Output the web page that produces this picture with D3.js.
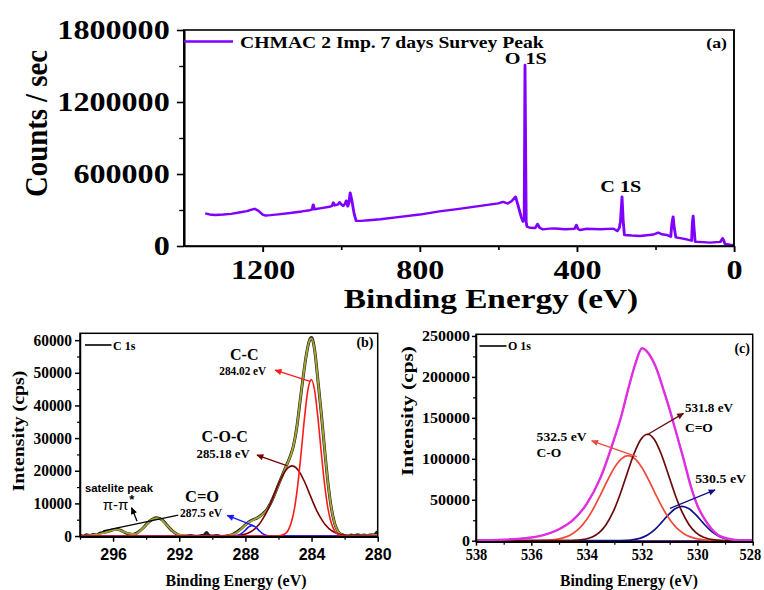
<!DOCTYPE html>
<html>
<head>
<meta charset="utf-8">
<script src="https://cdn.jsdelivr.net/npm/d3@7"></script>
<style>
  body { margin: 0; background: #fff; }
  svg { display: block; }
</style>
</head>
<body>
<svg id="fig" width="764" height="590"></svg>
<script>
// ---------------- data ----------------
// (a) survey spectrum: [binding energy eV, counts/sec]
const surveyTicksX = [1200, 800, 400, 0];
const surveyMinorX = [1000, 600, 200];
const surveyTicksY = [0, 600000, 1200000, 1800000];
const surveyMinorY = [300000, 900000, 1500000];
const survey = [
  [1346,272000],[1335,263000],[1320,258000],[1300,262000],[1280,268000],[1260,279000],
  [1240,291000],[1228,303000],[1220,310000],[1210,292000],[1200,262000],[1192,254000],
  [1180,257000],[1160,264000],[1130,275000],[1100,288000],[1080,298000],[1074,304000],
  [1071,345000],[1068,306000],[1050,316000],[1030,327000],[1023,334000],[1020,362000],
  [1016,338000],[1008,346000],[1004,365000],[999,345000],[995,334000],[990,352000],
  [987,378000],[983,330000],[980,362000],[977,444000],[973,385000],[967,270000],
  [962,211000],[950,209000],[930,214000],[900,223000],[850,243000],[800,262000],
  [750,289000],[700,309000],[650,332000],[600,355000],[588,368000],[576,354000],
  [566,374000],[556,411000],[549,330000],[542,245000],[537,203000],[534,232000],
  [532,1508000],[529,200000],[527,161000],[520,152000],[506,150000],[500,183000],
  [495,152000],[486,139000],[470,145000],[455,146000],[430,140000],[406,144000],
  [401,175000],[397,141000],[392,133000],[375,144000],[340,140000],[307,145000],
  [297,125000],[292,150000],[289,205000],[285,411000],[282,205000],[279,92000],
  [260,87000],[239,83000],[205,96000],[193,111000],[184,98000],[171,92000],
  [161,78000],[158,190000],[155,244000],[152,150000],[148,72000],[130,62000],
  [121,55000],[108,44000],[106,190000],[104,250000],[101,120000],[99,36000],
  [80,32000],[61,28000],[35,34000],[29,64000],[26,45000],[23,17000],[10,10000],[0,8000]
];
const surveyPeaks = [
  { text: "O 1S", ev: 530, v: 1516000 },
  { text: "C 1S", ev: 288, v: 452000 }
];

// (b) C 1s high resolution: [binding energy eV, intensity cps]
const c1sTicksX = [296, 292, 288, 284, 280];
const c1sMinorX = [298, 294, 290, 286, 282];
const c1sTicksY = [0, 10000, 20000, 30000, 40000, 50000, 60000];
const c1sMinorY = [5000, 15000, 25000, 35000, 45000, 55000];
const c1sData = [
  [298,300],[297.8,-100],[297.6,400],[297.4,100],[297.2,500],[297,300],[296.8,900],
  [296.6,1100],[296.4,1300],[296.2,1600],[296,1900],[295.8,2100],[295.6,1900],[295.4,1400],
  [295.2,900],[295,600],[294.8,500],[294.6,800],[294.4,1500],[294.2,2400],[294,3500],
  [293.8,4500],[293.6,5200],[293.4,5600],[293.2,5400],[293,4800],[292.8,3700],[292.6,2500],
  [292.4,1500],[292.2,800],[292,300],[291.8,100],[291.6,0],[291.3,200],[291,-100],
  [290.7,100],[290.5,300],[290.35,1100],[290.2,200],[290,0],[289.7,200],[289.4,-200],
  [289.1,100],[288.9,300],[288.7,700],[288.5,1300],[288.3,2100],[288.1,3000],[287.9,3900],
  [287.7,4600],[287.5,5100],[287.3,5500],[287.1,6200],[286.9,7000],[286.7,8100],[286.5,9800],
  [286.3,12000],[286.1,14500],[285.9,17000],[285.7,19400],[285.5,21800],[285.3,24300],
  [285.1,27500],[284.9,33000],[284.7,41000],[284.5,49000],[284.3,56000],[284.1,60300],
  [284,60800],[283.9,59500],[283.8,56500],[283.6,47000],[283.4,37000],[283.2,26000],
  [283,16000],[282.8,8500],[282.6,3800],[282.4,1400],[282.2,500],[282,200],[281.8,0],
  [281.6,300],[281.4,100],[281.2,400],[281,200],[280.8,300],[280.6,100],[280.4,400],
  [280.2,300],[280.1,900],[280,1300]
];
const c1sEnvelope = [
  [298,100],[297.5,200],[297,400],[296.6,900],[296.2,1600],[295.8,2000],[295.4,1400],
  [295,700],[294.7,600],[294.4,1400],[294,3400],[293.7,4900],[293.4,5500],[293.1,5100],
  [292.8,3600],[292.4,1500],[292,400],[291.5,100],[291,50],[290,50],[289.2,100],
  [288.8,400],[288.4,1500],[288.1,2900],[287.8,4200],[287.5,5000],[287.1,6100],[286.7,8000],
  [286.3,12000],[285.9,17000],[285.5,21700],[285.1,27500],[284.9,33000],[284.7,41000],
  [284.5,49000],[284.3,56000],[284.1,60200],[284,60500],[283.8,56500],[283.6,47000],
  [283.4,37000],[283.2,26000],[283,16000],[282.8,8500],[282.6,3800],[282.4,1400],
  [282.2,500],[282,200],[281.5,100],[281,150],[280.5,200],[280,300]
];
const c1sCC = [
  [298,0],[286.1,0],[285.62,600],[285.42,1700],[285.22,4200],[285.02,8800],[284.82,16200],
  [284.62,26000],[284.42,36500],[284.22,44800],[284.02,47900],[283.82,44800],[283.62,36500],
  [283.42,26000],[283.22,16200],[283.02,8800],[282.82,4200],[282.62,1700],[282.42,600],
  [282.02,0],[280,0]
];
const c1sCOC = [
  [298,0],[289.18,0],[288.68,80],[288.18,360],[287.93,700],[287.68,1300],[287.43,2200],
  [287.18,3500],[286.93,5400],[286.68,7700],[286.43,10600],[286.18,13700],[285.93,16700],
  [285.68,19200],[285.43,20900],[285.18,21500],[284.93,20900],[284.68,19200],[284.43,16700],
  [284.18,13700],[283.93,10600],[283.68,7700],[283.43,5400],[283.18,3500],[282.93,2200],
  [282.68,1300],[282.43,700],[282.18,360],[281.68,80],[281.18,0],[280,0]
];
const c1sCO = [
  [298,0],[288.8,0],[288.6,100],[288.4,350],[288.2,920],[288,1840],[287.8,2790],[287.6,3200],
  [287.4,2790],[287.2,1840],[287,920],[286.8,350],[286.6,100],[286.4,0],[280,0]
];

// (c) O 1s high resolution: [binding energy eV, intensity cps]
const o1sTicksX = [538, 536, 534, 532, 530, 528];
const o1sMinorX = [537, 535, 533, 531, 529];
const o1sTicksY = [0, 50000, 100000, 150000, 200000, 250000];
const o1sMinorY = [25000, 75000, 125000, 175000, 225000];
const o1sData = [
  [538,300],[537.5,800],[537,1100],[536.5,2300],[536,3900],[535.5,7600],[535,13800],
  [534.5,25200],[534,44600],[533.5,77400],[533,124600],[532.75,152400],[532.5,184600],
  [532.25,215300],[532,234800],[531.75,228300],[531.5,211700],[531.25,187300],[531,159600],
  [530.75,130300],[530.5,99700],[530.25,68300],[530,42800],[529.75,27200],[529.5,14800],
  [529.25,7100],[529,3400],[528.75,1600],[528.5,500],[528,300]
];
const o1sEnvelope = [
  [538,400],[537.5,700],[537,1200],[536.5,2200],[536,4000],[535.5,7500],[535,14000],
  [534.5,25000],[534,45000],[533.5,77000],[533,125000],[532.75,152000],[532.5,185000],
  [532.25,215000],[532,235000],[531.75,228000],[531.5,212000],[531.25,187000],[531,160000],
  [530.75,130000],[530.5,100000],[530.25,68000],[530,43000],[529.75,27000],[529.5,15000],
  [529.25,7000],[529,3500],[528.75,1500],[528.5,600],[528,200]
];
const o1sCO = [
  [538,0],[536,50],[535.5,400],[535,2200],[534.5,8800],[534.25,15700],[534,25900],
  [533.75,39600],[533.5,56100],[533.25,73500],[533,89100],[532.75,100000],[532.5,104000],
  [532.25,100000],[532,89100],[531.75,73500],[531.5,56100],[531.25,39600],[531,25900],
  [530.75,15700],[530.5,8800],[530,2200],[529.5,400],[529,50],[528,0]
];
const o1sCdO = [
  [538,0],[534.8,0],[534.3,700],[533.8,4500],[533.55,9800],[533.3,19500],[533.05,34800],
  [532.8,55900],[532.55,80900],[532.3,105300],[532.05,123300],[531.8,130000],[531.55,123300],
  [531.3,105300],[531.05,80900],[530.8,55900],[530.55,34800],[530.3,19500],[530.05,9800],
  [529.8,4500],[529.3,700],[528.8,0],[528,0]
];
const o1s5305 = [
  [538,0],[533,0],[532.55,400],[532.3,1250],[532.05,3200],[531.8,7000],[531.55,13300],
  [531.3,22000],[531.05,31500],[530.8,39100],[530.55,42000],[530.3,39100],[530.05,31500],
  [529.8,22000],[529.55,13300],[529.3,7000],[529.05,3200],[528.8,1250],[528.55,400],[528,30]
];

// ---------------- drawing ----------------
const SERIF = "'Liberation Serif','Times New Roman',serif";
const SANS = "'Liberation Sans',Arial,sans-serif";
const svg = d3.select("#fig");
svg.append("rect").attr("width", 764).attr("height", 590).attr("fill", "#fff");

const defs = svg.append("defs");
function arrowMarker(id, color) {
  defs.append("marker")
    .attr("id", id).attr("viewBox", "0 0 10 10")
    .attr("refX", 9).attr("refY", 5)
    .attr("markerWidth", 8).attr("markerHeight", 7)
    .attr("markerUnits", "userSpaceOnUse").attr("orient", "auto")
    .append("path").attr("d", "M0,0.5L10,5L0,9.5z").attr("fill", color);
}
arrowMarker("ah-red", "#ff1a1a");
arrowMarker("ah-maroon", "#7a0000");
arrowMarker("ah-blue", "#1a1aff");
arrowMarker("ah-black", "#000");
arrowMarker("ah-salmon", "#f04a3a");
arrowMarker("ah-brown", "#6b0a0a");
arrowMarker("ah-navy", "#10108a");

function styleAxis(g, o) {
  g.attr("font-family", null).attr("font-size", null);
  g.selectAll("text")
    .attr("font-family", o.family).attr("font-size", o.size)
    .attr("font-weight", "bold").attr("fill", "#000");
  if (o.perChar) {
    g.selectAll("text")
      .attr("textLength", function () { return this.textContent.length * o.perChar; })
      .attr("lengthAdjust", "spacingAndGlyphs");
  }
  g.selectAll(".tick line").attr("stroke", "#000").attr("stroke-width", o.sw);
  g.select(".domain").attr("stroke", "#000").attr("stroke-width", o.sw);
}
function minorAxis(g, axis, sw) {
  g.call(axis.tickFormat(""));
  g.select(".domain").remove();
  g.selectAll(".tick line").attr("stroke", "#000").attr("stroke-width", sw);
}
function addText(g, x, y, str, o) {
  const t = g.append("text")
    .attr("x", x).attr("y", y)
    .attr("font-family", o.family || SERIF)
    .attr("font-size", o.size)
    .attr("font-weight", o.weight || "bold")
    .attr("text-anchor", o.anchor || "start")
    .attr("fill", o.fill || "#000")
    .text(str);
  if (o.len) t.attr("textLength", o.len).attr("lengthAdjust", "spacingAndGlyphs");
  return t;
}
function arrow(g, xs, ys, a, b, color, marker) {
  g.append("line")
    .attr("x1", xs(a[0])).attr("y1", ys(a[1])).attr("x2", xs(b[0])).attr("y2", ys(b[1]))
    .attr("stroke", color).attr("stroke-width", 1.3)
    .attr("marker-end", marker ? `url(#${marker})` : null);
}

// ===== (a) survey =====
const SX = 1.19; // wide lettering of the survey panel
const gA = svg.append("g").attr("transform", `scale(${SX},1)`);
const xA = d3.scaleLinear().domain([1400, 0]).range([184 / SX, 734 / SX]);
const yA = d3.scaleLinear().domain([0, 1800000]).range([246, 30]);

gA.append("path").datum(survey)
  .attr("fill", "none").attr("stroke", "#8000ff").attr("stroke-width", 2.4)
  .attr("stroke-linejoin", "round")
  .attr("d", d3.line().x(d => xA(d[0])).y(d => yA(d[1])));

gA.append("rect")
  .attr("x", xA(1400)).attr("y", yA(1800000))
  .attr("width", xA(0) - xA(1400)).attr("height", yA(0) - yA(1800000))
  .attr("fill", "none").attr("stroke", "#000").attr("stroke-width", 1.6);

gA.append("g").attr("transform", `translate(0,${yA(0)})`)
  .call(d3.axisBottom(xA).tickValues(surveyTicksX).tickSize(6).tickPadding(8)
    .tickSizeOuter(0).tickFormat(d3.format("d")))
  .call(g => styleAxis(g, { family: SERIF, size: 27, sw: 1.6 }));
gA.append("g").attr("transform", `translate(0,${yA(0)})`)
  .call(g => minorAxis(g, d3.axisBottom(xA).tickValues(surveyMinorX).tickSize(4), 1.4));

gA.append("g").attr("transform", `translate(${xA(1400)},0)`)
  .call(d3.axisLeft(yA).tickValues(surveyTicksY).tickSize(6).tickPadding(6)
    .tickSizeOuter(0).tickFormat(d3.format("d")))
  .call(g => styleAxis(g, { family: SERIF, size: 27, sw: 1.6 }));
gA.append("g").attr("transform", `translate(${xA(1400)},0)`)
  .call(g => minorAxis(g, d3.axisLeft(yA).tickValues(surveyMinorY).tickSize(4), 1.4));

addText(gA, 491 / SX, 308, "Binding Energy (eV)", { size: 28, anchor: "middle" });
addText(gA, 0, 0, "Counts / sec", { size: 27, anchor: "middle", len: 147 })
  .attr("transform", `translate(${46.5 / SX},123.5) rotate(-90)`);

// legend
gA.append("line")
  .attr("x1", 184 / SX).attr("x2", 233 / SX).attr("y1", 41.5).attr("y2", 41.5)
  .attr("stroke", "#8000ff").attr("stroke-width", 2.4);
addText(gA, 240 / SX, 48, "CHMAC 2 Imp. 7 days Survey Peak", { size: 16.5 });
addText(gA, 727 / SX, 48, "(a)", { size: 15, anchor: "end" });

surveyPeaks.forEach(p => addText(gA, xA(p.ev), yA(p.v), p.text, { size: 17, anchor: "middle" }));

// ===== (b) C 1s =====
const gB = svg.append("g");
const xB = d3.scaleLinear().domain([298, 280]).range([80, 377.7]);
const yB = d3.scaleLinear().domain([-200, 62100]).range([536.7, 333.3]);
const lineB = d3.line().x(d => xB(d[0])).y(d => yB(d[1])).curve(d3.curveMonotoneX);

gB.append("line")
  .attr("x1", xB(298)).attr("x2", xB(280)).attr("y1", yB(0)).attr("y2", yB(0))
  .attr("stroke", "#8a00a8").attr("stroke-width", 1.6);
gB.append("path").datum(c1sData)
  .attr("fill", "none").attr("stroke", "#222").attr("stroke-width", 3)
  .attr("d", lineB);
gB.append("path").datum(c1sEnvelope)
  .attr("fill", "none").attr("stroke", "#a3a332").attr("stroke-width", 1.9)
  .attr("d", lineB);
[[c1sCOC, "#7a0000"], [c1sCO, "#1a1aff"], [c1sCC, "#ff1a1a"]].forEach(([s, c]) => {
  gB.append("path").datum(s)
    .attr("fill", "none").attr("stroke", c).attr("stroke-width", 1.6)
    .attr("d", lineB);
});

gB.append("rect")
  .attr("x", xB(298)).attr("y", yB(62100))
  .attr("width", xB(280) - xB(298)).attr("height", yB(-200) - yB(62100))
  .attr("fill", "none").attr("stroke", "#000").attr("stroke-width", 1.5);

gB.append("g").attr("transform", `translate(0,${yB(-200)})`)
  .call(d3.axisBottom(xB).tickValues(c1sTicksX).tickSize(5).tickPadding(7)
    .tickSizeOuter(0).tickFormat(d3.format("d")))
  .call(g => styleAxis(g, { family: SANS, size: 16, sw: 1.5 }));
gB.append("g").attr("transform", `translate(0,${yB(-200)})`)
  .call(g => minorAxis(g, d3.axisBottom(xB).tickValues(c1sMinorX).tickSize(3), 1.2));
gB.append("g").attr("transform", `translate(${xB(298)},0)`)
  .call(d3.axisLeft(yB).tickValues(c1sTicksY).tickSize(5).tickPadding(3)
    .tickSizeOuter(0).tickFormat(d3.format("d")))
  .call(g => styleAxis(g, { family: SERIF, size: 16, sw: 1.5, perChar: 7.7 }));
gB.append("g").attr("transform", `translate(${xB(298)},0)`)
  .call(g => minorAxis(g, d3.axisLeft(yB).tickValues(c1sMinorY).tickSize(3), 1.2));

addText(gB, 236, 586, "Binding Energy (eV)", { size: 17, anchor: "middle", len: 141 });
addText(gB, 0, 0, "Intensity (cps)", { size: 16.5, anchor: "middle", len: 121 })
  .attr("transform", "translate(23.5,431) rotate(-90)");

gB.append("line").attr("x1", 85).attr("x2", 111.5).attr("y1", 345).attr("y2", 345)
  .attr("stroke", "#000").attr("stroke-width", 1.6);
addText(gB, 113, 349.5, "C 1s", { size: 12 });
addText(gB, 373.5, 347, "(b)", { size: 14, anchor: "end" });

// peak annotations, anchored in data units
addText(gB, xB(288.93), yB(53800), "C-C", { size: 16 });
addText(gB, xB(289.58), yB(49200), "284.02 eV", { size: 11.5, len: 47 });
arrow(gB, xB, yB, [284.05, 47300], [286.2, 50800], "#ff1a1a", "ah-red");
addText(gB, xB(290.65), yB(28800), "C-O-C", { size: 16 });
addText(gB, xB(290.95), yB(23800), "285.18 eV", { size: 11.5, len: 53 });
arrow(gB, xB, yB, [285.5, 21600], [287.3, 24800], "#7a0000", "ah-maroon");
addText(gB, xB(291.65), yB(10300), "C=O", { size: 16.5 });
addText(gB, xB(291.95), yB(5900), "287.5 eV", { size: 11.5, len: 42 });
arrow(gB, xB, yB, [287.55, 3300], [289.1, 6300], "#1a1aff", "ah-blue");
addText(gB, xB(297.7), yB(13500), "satelite peak", { size: 11.5, family: SANS, len: 68 });
const pi = addText(gB, xB(296.63), yB(8000), "π-π", { size: 15, family: SANS, weight: "normal" });
pi.append("tspan").attr("dx", 1).attr("dy", -6).attr("font-size", 13).attr("font-weight", "bold").text("*");
arrow(gB, xB, yB, [296.6, 1600], [292.06, 6400], "#000", null);
arrow(gB, xB, yB, [294.55, 4500], [294.88, 8700], "#000", "ah-black");

// ===== (c) O 1s =====
const gC = svg.append("g");
const xC = d3.scaleLinear().domain([538, 528]).range([476, 752.7]);
const yC = d3.scaleLinear().domain([-1200, 252000]).range([541.7, 334.3]);
const lineC = d3.line().x(d => xC(d[0])).y(d => yC(d[1])).curve(d3.curveMonotoneX);

gC.append("line")
  .attr("x1", xC(538)).attr("x2", xC(528)).attr("y1", yC(0)).attr("y2", yC(0))
  .attr("stroke", "#6a2aa0").attr("stroke-width", 1.6);
gC.append("path").datum(o1sData)
  .attr("fill", "none").attr("stroke", "#000").attr("stroke-width", 1.2).attr("d", lineC);
[[o1s5305, "#10108a"], [o1sCO, "#f04a3a"], [o1sCdO, "#6b0a0a"]].forEach(([s, c]) => {
  gC.append("path").datum(s)
    .attr("fill", "none").attr("stroke", c).attr("stroke-width", 1.7).attr("d", lineC);
});
gC.append("path").datum(o1sEnvelope)
  .attr("fill", "none").attr("stroke", "#e22ee2").attr("stroke-width", 2.4).attr("d", lineC);

gC.append("rect")
  .attr("x", xC(538)).attr("y", yC(252000))
  .attr("width", xC(528) - xC(538)).attr("height", yC(-1200) - yC(252000))
  .attr("fill", "none").attr("stroke", "#000").attr("stroke-width", 1.5);

gC.append("g").attr("transform", `translate(0,${yC(-1200)})`)
  .call(d3.axisBottom(xC).tickValues(o1sTicksX).tickSize(4).tickPadding(3)
    .tickSizeOuter(0).tickFormat(d3.format("d")))
  .call(g => styleAxis(g, { family: SERIF, size: 16, sw: 1.5, perChar: 7.2 }))
  .call(g => g.selectAll(".tick text").filter(d => d === 528).attr("text-anchor", "end").attr("dx", 8));
gC.append("g").attr("transform", `translate(0,${yC(-1200)})`)
  .call(g => minorAxis(g, d3.axisBottom(xC).tickValues(o1sMinorX).tickSize(3), 1.2));
gC.append("g").attr("transform", `translate(${xC(538)},0)`)
  .call(d3.axisLeft(yC).tickValues(o1sTicksY).tickSize(4).tickPadding(2)
    .tickSizeOuter(0).tickFormat(d3.format("d")))
  .call(g => styleAxis(g, { family: SERIF, size: 15, sw: 1.5, perChar: 8 }));
gC.append("g").attr("transform", `translate(${xC(538)},0)`)
  .call(g => minorAxis(g, d3.axisLeft(yC).tickValues(o1sMinorY).tickSize(3), 1.2));

addText(gC, 629, 586, "Binding Energy (eV)", { size: 17, anchor: "middle", len: 138 });
addText(gC, 0, 0, "Intensity (cps)", { size: 16.5, anchor: "middle", len: 130 })
  .attr("transform", "translate(413,411) rotate(-90)");

gC.append("line").attr("x1", 479.5).attr("x2", 506.5).attr("y1", 346).attr("y2", 346)
  .attr("stroke", "#000").attr("stroke-width", 1.6);
addText(gC, 508, 350, "O 1s", { size: 12 });
addText(gC, 750, 353, "(c)", { size: 14, anchor: "end" });

addText(gC, xC(530.45), yC(157600), "531.8 eV", { size: 13.5, len: 48 });
addText(gC, xC(530.45), yC(133200), "C=O", { size: 13.5 });
arrow(gC, xC, yC, [531.83, 129000], [530.5, 155500], "#6b0a0a", "ah-brown");
addText(gC, xC(535.81), yC(122200), "532.5 eV", { size: 13.5, len: 50 });
addText(gC, xC(535.81), yC(102600), "C-O", { size: 13.5 });
arrow(gC, xC, yC, [532.19, 102600], [533.82, 122000], "#f04a3a", "ah-salmon");
addText(gC, xC(530.08), yC(70100), "530.5 eV", { size: 13.5, len: 51 });
arrow(gC, xC, yC, [530.99, 39600], [529.36, 62000], "#10108a", "ah-navy");
</script>
</body>
</html>
